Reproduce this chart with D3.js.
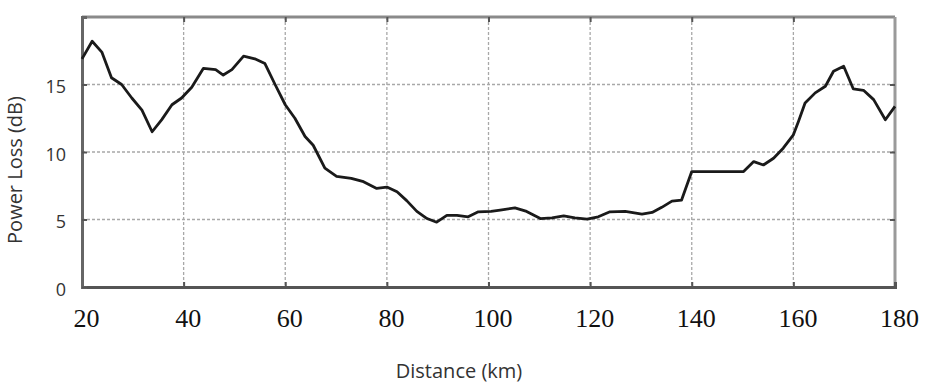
<!DOCTYPE html>
<html>
<head>
<meta charset="utf-8">
<script src="https://cdn.jsdelivr.net/npm/d3@7"></script>
<style>
  body { margin: 0; background: #fff; }
  svg { display: block; }
</style>
</head>
<body>
<div id="chart"></div>
<script>
// values
var distance = [20, 22, 23.9, 25.8, 27.8, 29.8, 31.8, 33.8, 35.7, 37.7, 39.6, 41.6, 43.9, 46.3, 47.8, 49.5,
    51.8, 54, 56, 58, 60, 61.9, 63.9, 65.5, 67.8, 70.1, 73, 75.4, 78, 80, 82, 83.9, 85.9, 87.9, 89.8,
    91.8, 93.8, 96, 98, 100.5, 102.3, 105.2, 107.5, 110.2, 112.5, 114.8, 117, 119.4, 121.6, 123.9,
    126.9, 130.2, 132.2, 134.1, 136.1, 138, 140, 150.2, 152.2, 154.1, 156.1, 158, 160, 161, 162.3,
    164.3, 166.3, 167.9, 169.9, 171.8, 173.8, 175.8, 178.1, 180];
var powerLoss = [16.9, 18.2, 17.4, 15.5, 15.0, 14.0, 13.1, 11.5, 12.4, 13.5, 14.0, 14.8, 16.2, 16.1, 15.7, 16.1,
    17.1, 16.9, 16.55, 15.0, 13.5, 12.5, 11.15, 10.5, 8.8, 8.2, 8.05, 7.8, 7.3, 7.4, 7.05, 6.4, 5.6, 5.07, 4.8,
    5.3, 5.3, 5.2, 5.57, 5.6, 5.7, 5.86, 5.6, 5.07, 5.12, 5.27, 5.12, 5.02, 5.2, 5.57,
    5.6, 5.4, 5.52, 5.9, 6.36, 6.44, 8.55, 8.55, 9.29, 9.04, 9.54, 10.28, 11.27, 12.26, 13.63,
    14.38, 14.87, 15.98, 16.35, 14.67, 14.57, 13.88, 12.39, 13.38];
var xTicks = [20, 40, 60, 80, 100, 120, 140, 160, 180];
var yTicks = [0, 5, 10, 15];

var data = distance.map(function(d, i){ return {x: d, y: powerLoss[i]}; });

var W = 930, H = 385;
var margin = {top: 17, right: 35, bottom: 98, left: 82};
var w = W - margin.left - margin.right;
var h = H - margin.top - margin.bottom;

var svg = d3.select("#chart").append("svg")
    .attr("width", W)
    .attr("height", H);

var g = svg.append("g")
    .attr("transform", "translate(" + margin.left + "," + margin.top + ")");

var x = d3.scaleLinear().domain([20, 180]).range([0, w]);
var y = d3.scaleLinear().domain([0, 20]).range([h, 0]);

//gridlines
g.selectAll("line.vgrid")
    .data(xTicks.slice(1, -1))
    .enter().append("line")
    .attr("class", "vgrid")
    .attr("x1", function(d){ return x(d); })
    .attr("x2", function(d){ return x(d); })
    .attr("y1", 0)
    .attr("y2", h)
    .style("stroke", "#a8a8a8")
    .style("stroke-width", 1.3)
    .style("stroke-dasharray", "3,2");

g.selectAll("line.hgrid")
    .data(yTicks.slice(1))
    .enter().append("line")
    .attr("class", "hgrid")
    .attr("x1", 0)
    .attr("x2", w)
    .attr("y1", function(d){ return y(d); })
    .attr("y2", function(d){ return y(d); })
    .style("stroke", "#a8a8a8")
    .style("stroke-width", 1.3)
    .style("stroke-dasharray", "3,2");

//frame
g.append("line").attr("x1", 0).attr("x2", w).attr("y1", 0).attr("y2", 0)
    .style("stroke", "#8a8a8a").style("stroke-width", 3);
g.append("line").attr("x1", w).attr("x2", w).attr("y1", 0).attr("y2", h)
    .style("stroke", "#9a9a9a").style("stroke-width", 3);

// bottom axis
var xAxis = g.append("g")
    .attr("transform", "translate(0," + h + ")")
    .call(d3.axisBottom(x).tickValues(xTicks).tickSize(-5).tickPadding(22).tickFormat(d3.format("d")));
xAxis.select(".domain").style("stroke", "#555").style("stroke-width", 3);
xAxis.selectAll(".tick line").style("stroke", "#555").style("stroke-width", 2);
xAxis.selectAll(".tick text")
    .style("font-family", "'Liberation Serif', 'Times New Roman', serif")
    .style("font-size", "26px")
    .style("fill", "#111")
    .attr("dx", 4);

// top ticks
var xTop = g.append("g")
    .call(d3.axisTop(x).tickValues(xTicks.slice(1, -1)).tickSize(-5).tickFormat(""));
xTop.select(".domain").remove();
xTop.selectAll(".tick line").style("stroke", "#555").style("stroke-width", 2);

// left axis
var yAxis = g.append("g")
    .call(d3.axisLeft(y).tickValues(yTicks).tickSize(-5).tickPadding(16));
yAxis.select(".domain").style("stroke", "#666").style("stroke-width", 3);
yAxis.selectAll(".tick line").style("stroke", "#555").style("stroke-width", 2);
yAxis.selectAll(".tick text")
    .style("font-family", "'Open Sans', sans-serif")
    .style("font-size", "18px")
    .style("fill", "#333")
    .attr("dy", "0.45em");

// right ticks
var yRight = g.append("g")
    .attr("transform", "translate(" + w + ",0)")
    .call(d3.axisRight(y).tickValues(yTicks.slice(1)).tickSize(-5).tickFormat(""));
yRight.select(".domain").remove();
yRight.selectAll(".tick line").style("stroke", "#555").style("stroke-width", 2);

// the curve
var line = d3.line()
    .x(function(d){ return x(d.x); })
    .y(function(d){ return y(d.y); });

g.append("path")
    .datum(data)
    .attr("d", line)
    .style("fill", "none")
    .style("stroke", "#1a1a1a")
    .style("stroke-width", 2.8)
    .style("stroke-linejoin", "round");

// axis titles
svg.append("text")
    .attr("x", 459)
    .attr("y", 378)
    .attr("text-anchor", "middle")
    .style("font-family", "'Open Sans', sans-serif")
    .style("font-size", "20px")
    .style("fill", "#333")
    .text("Distance (km)");

svg.append("text")
    .attr("transform", "translate(22,170) rotate(-90)")
    .attr("text-anchor", "middle")
    .style("font-family", "'Open Sans', sans-serif")
    .style("font-size", "20px")
    .style("fill", "#333")
    .text("Power Loss (dB)");
</script>
</body>
</html>
